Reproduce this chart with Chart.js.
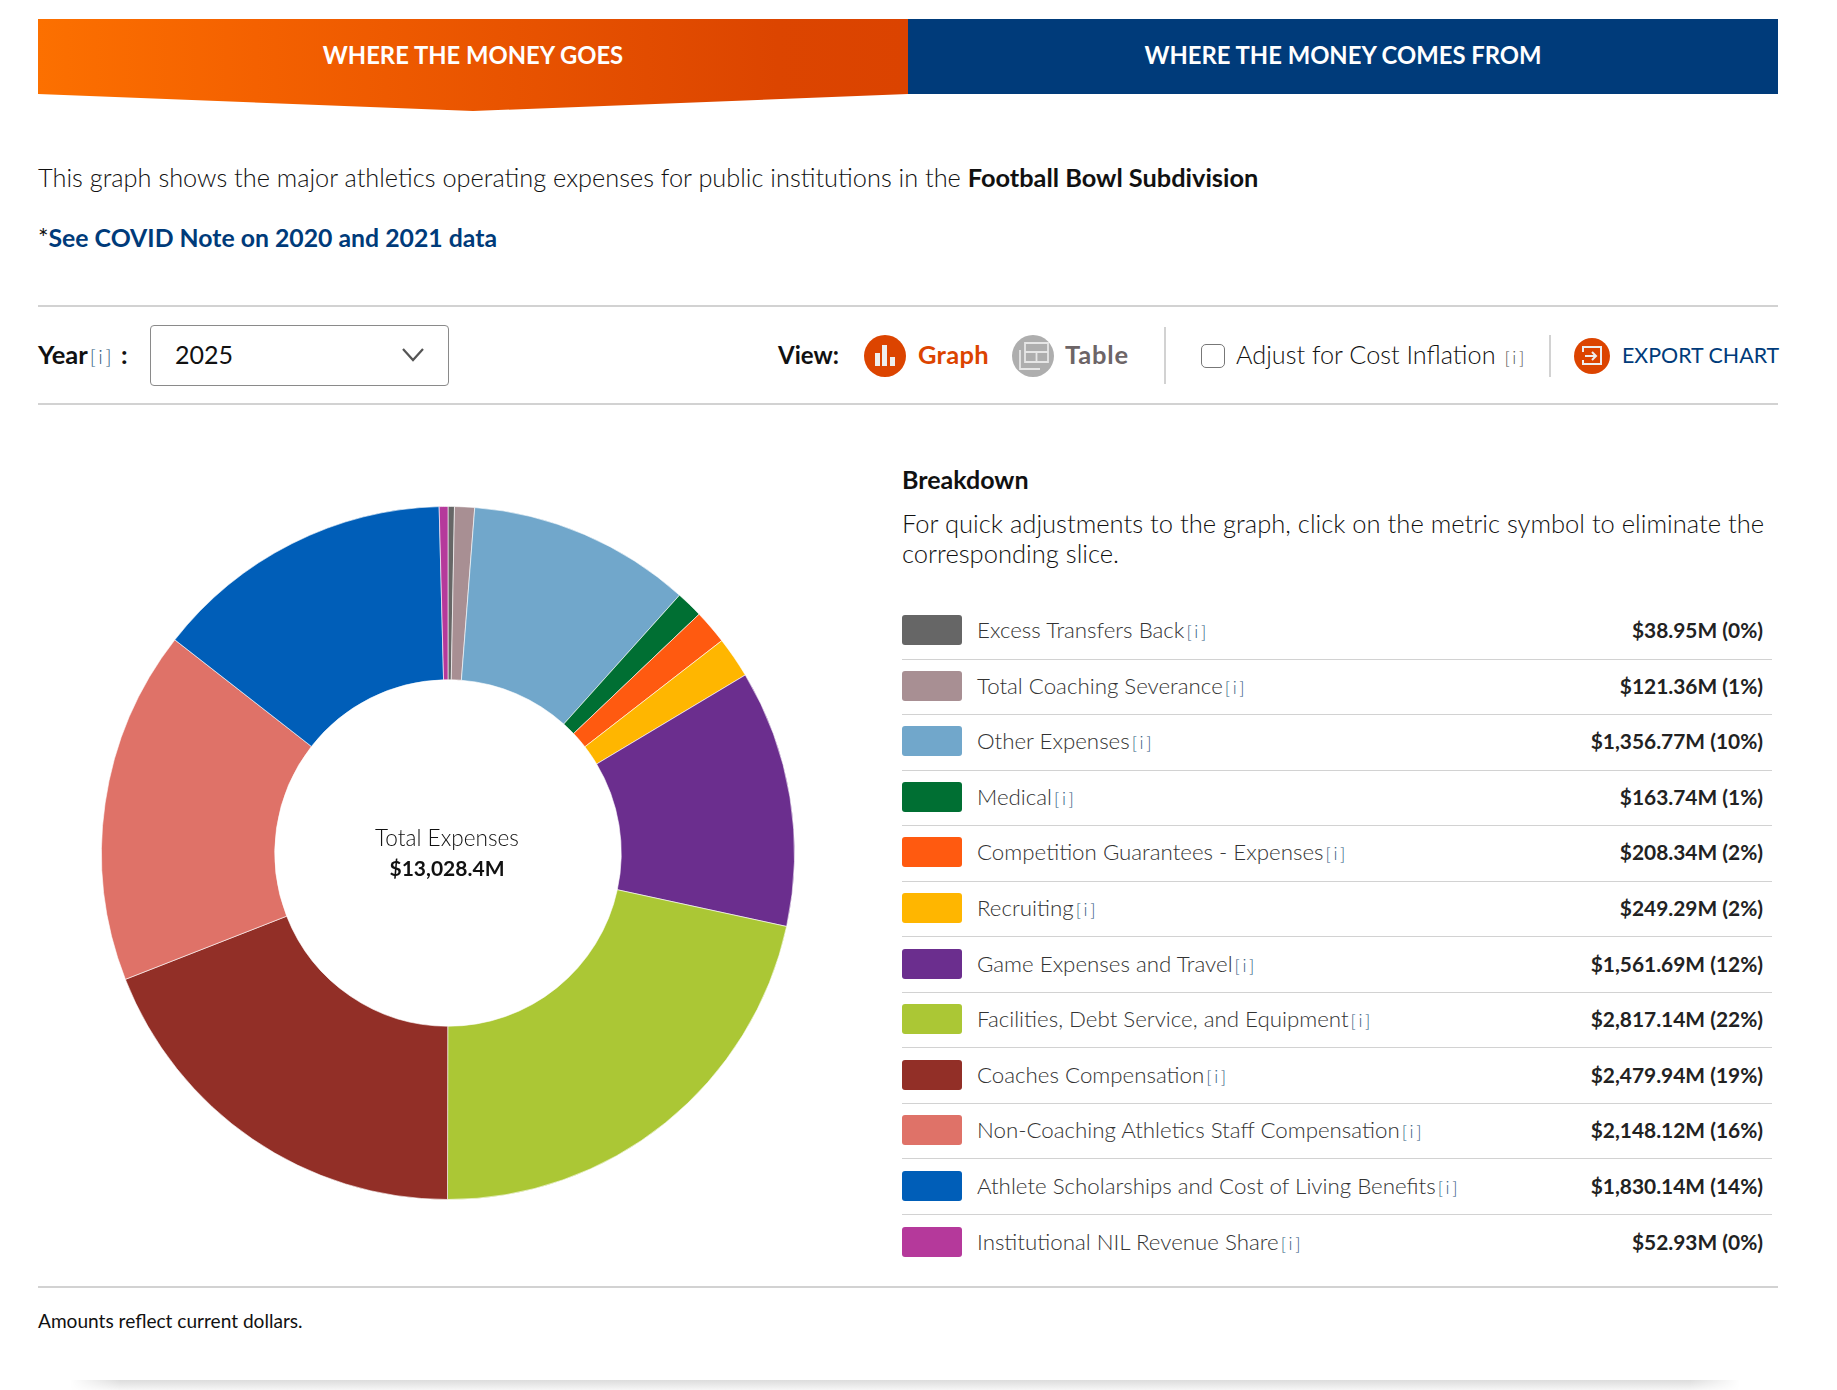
<!DOCTYPE html>
<html>
<head>
<meta charset="utf-8">
<title>Where the money goes</title>
<script src="https://cdn.jsdelivr.net/npm/chart.js@4"></script>
<style>
html, body { margin: 0; padding: 0; background: #fff; }
body { width: 1837px; height: 1390px; position: relative; overflow: hidden; font-family: Lato, sans-serif; font-weight: 300; color: #111; }
.abs { position: absolute; white-space: nowrap; }
.vmid { transform: translateY(-50%); }
.tab { top: 19px; height: 75px; line-height: 72px; text-align: center; color: #fff; font-weight: 700; font-size: 23.8px; }
#tab1 { left: 38px; width: 870px; height: 92px; background: linear-gradient(90deg, #fc7000 0%, #f46100 25%, #dc4500 85%, #db4300 100%); clip-path: polygon(0 0, 100% 0, 100% 75px, 50% 92px, 0 75px); }
#tab2 { left: 908px; width: 870px; background: #003b7a; }
.rule { position: absolute; left: 38px; width: 1740px; height: 2px; background: #d2d2d2; }
.i { font-size: 0.8em; letter-spacing: 2.6px; color: #34607f; margin-left: 2px; font-weight: 300; }
b { font-weight: 700; }
#select { left: 150px; top: 325px; width: 299px; height: 61px; box-sizing: border-box; border: 1.5px solid #8a8a8a; border-radius: 4px; }
.circle { position: absolute; border-radius: 50%; }
.vline { position: absolute; width: 1.5px; background: #d2d2d2; }
#chartBox { position: absolute; left: 88px; top: 493px; width: 720px; height: 720px; }
#centre { position: absolute; left: 297px; width: 300px; top: 823px; text-align: center; font-size: 22.6px; line-height: 30px; }
#centre b { display: block; font-size: 21px; }
#legend { position: absolute; left: 902px; top: 604px; width: 870px; }
.row { height: 55.55px; box-sizing: border-box; border-bottom: 1.5px solid #d2d2d2; display: flex; align-items: center; font-size: 22.3px; }
.row:last-child { border-bottom: none; }
.swatch { width: 60px; height: 30px; border-radius: 3px; margin-right: 15px; flex: none; position: relative; top: -1px; }
.name { flex: 1; position: relative; top: -1.5px; color: #333; }
.amount { font-weight: 700; margin-right: 9px; font-size: 20.9px; position: relative; top: -1.5px; color: #222; }
</style>
</head>
<body>
<div class="abs tab" id="tab1">WHERE THE MONEY GOES</div>
<div class="abs tab" id="tab2">WHERE THE MONEY COMES FROM</div>

<div class="abs vmid" style="left:38px;top:177px;font-size:25.35px">This graph shows the major athletics operating expenses for public institutions in the <b>Football Bowl Subdivision</b></div>
<div class="abs vmid" style="left:38px;top:237px;font-size:24.8px;font-weight:700;color:#003b7a"><span style="font-weight:400;color:#111">*</span>See COVID Note on 2020 and 2021 data</div>

<div class="rule" style="top:305px"></div>
<div class="rule" style="top:403px"></div>

<div class="abs vmid" style="left:38px;top:354px;font-size:25.5px"><b>Year</b><span class="i">[i]</span> <b>:</b></div>
<div class="abs" id="select"></div>
<div class="abs vmid" style="left:175px;top:354px;font-size:25px;font-weight:400">2025</div>
<svg class="abs" style="left:401px;top:347px" width="24" height="16"><path d="M2 2 L12 13 L22 2" fill="none" stroke="#555" stroke-width="2.2"/></svg>

<div class="abs vmid" style="left:778px;top:354px;font-size:24px"><b>View:</b></div>
<div class="circle" style="left:864px;top:335px;width:42px;height:42px;background:#dc4400"></div>
<svg class="abs" style="left:864px;top:335px" width="42" height="42"><path d="M11 18h5v13h-5zM18 10h5v21h-5zM26 22h5v9h-5z" fill="#eee"/></svg>
<div class="abs vmid" style="left:918px;top:354px;font-size:25.5px;letter-spacing:0.3px;font-weight:700;color:#dc4400">Graph</div>
<div class="circle" style="left:1012px;top:335px;width:42px;height:42px;background:#aeaeae"></div>
<svg class="abs" style="left:1012px;top:335px" width="42" height="42"><path d="M13 8h23v19h-23zM13 17h23M24.500 17v10M8 15v19h20" fill="none" stroke="#e6e6e6" stroke-width="1.800"/></svg>
<div class="abs vmid" style="left:1065px;top:354px;font-size:25.5px;letter-spacing:0.8px;font-weight:700;color:#6d6567">Table</div>
<div class="vline" style="left:1164px;top:327px;height:57px"></div>
<div class="abs" style="left:1201px;top:344px;width:24px;height:24px;box-sizing:border-box;border:1.5px solid #777;border-radius:5px"></div>
<div class="abs vmid" style="left:1236px;top:354px;font-size:25.25px">Adjust for Cost Inflation <span class="i" style="font-size:18px;color:#555">[i]</span></div>
<div class="vline" style="left:1549px;top:335px;height:42px"></div>
<div class="circle" style="left:1574px;top:338px;width:36px;height:36px;background:#dc4400"></div>
<svg class="abs" style="left:1574px;top:338px" width="36" height="36"><path d="M9 14v-5h18v17h-18v-4M11 18h11M18 14l4 4l-4 4" fill="none" stroke="#eee" stroke-width="2"/></svg>
<div class="abs vmid" style="left:1622px;top:355px;font-size:21.4px;font-weight:400;color:#003b7a">EXPORT CHART</div>

<div id="chartBox"><canvas id="chart" width="720" height="720"></canvas></div>
<div id="centre"><span id="centreLabel"></span><b id="centreValue"></b></div>

<div class="abs vmid" style="left:902px;top:479px;font-size:25px"><b>Breakdown</b></div>
<div class="abs" style="left:902px;top:509px;font-size:25.55px;line-height:29.5px">For quick adjustments to the graph, click on the metric symbol to eliminate the<br>corresponding slice.</div>
<div id="legend"></div>

<div class="rule" style="top:1286px"></div>
<div class="abs vmid" style="left:38px;top:1320px;font-size:19.1px;font-weight:400">Amounts reflect current dollars.</div>
<div class="abs" style="left:70px;top:1380px;width:1670px;height:10px;background:linear-gradient(180deg,#dcdcdc,#f6f6f6);-webkit-mask-image:linear-gradient(90deg,transparent,#000 3%,#000 97%,transparent)"></div>

<script>
const categories = [
    'Excess Transfers Back',
    'Total Coaching Severance',
    'Other Expenses',
    'Medical',
    'Competition Guarantees - Expenses',
    'Recruiting',
    'Game Expenses and Travel',
    'Facilities, Debt Service, and Equipment',
    'Coaches Compensation',
    'Non-Coaching Athletics Staff Compensation',
    'Athlete Scholarships and Cost of Living Benefits',
    'Institutional NIL Revenue Share'
];
const expenses = [38.95, 121.36, 1356.77, 163.74, 208.34, 249.29, 1561.69, 2817.14, 2479.94, 2148.12, 1830.14, 52.93];
const shares = [0, 1, 10, 1, 2, 2, 12, 22, 19, 16, 14, 0];
const colours = ['#666666', '#a88f93', '#71a7cb', '#006f33', '#ff5a10', '#ffb600', '#6b2e8e', '#abc735', '#922f27', '#df7268', '#005eb8', '#b5399b'];
const totalLabel = 'Total Expenses';
const totalValue = '$13,028.4M';

const money = v => '$' + v.toLocaleString('en-US', { minimumFractionDigits: 2, maximumFractionDigits: 2 }) + 'M';

// donut
new Chart(document.querySelector('#chart').getContext('2d'), {
    type: 'doughnut',
    data: {
        labels: categories,
        datasets: [{
            data: expenses,
            backgroundColor: colours,
            borderColor: '#fff',
            borderWidth: 0.6,
            radius: 346.5,
            cutout: '50%'
        }]
    },
    options: {
        responsive: false,
        animation: false,
        plugins: { legend: { display: false } }
    }
});

document.querySelector('#centreLabel').textContent = totalLabel;
document.querySelector('#centreValue').textContent = totalValue;

// breakdown list
const legend = document.querySelector('#legend');
categories.forEach((name, i) => {
    const row = document.createElement('div');
    row.className = 'row';
    row.innerHTML = `<span class="swatch" style="background:${colours[i]}"></span>` +
        `<span class="name">${name}<span class="i">[i]</span></span>` +
        `<span class="amount">${money(expenses[i])} (${shares[i]}%)</span>`;
    legend.appendChild(row);
});
</script>
</body>
</html>
